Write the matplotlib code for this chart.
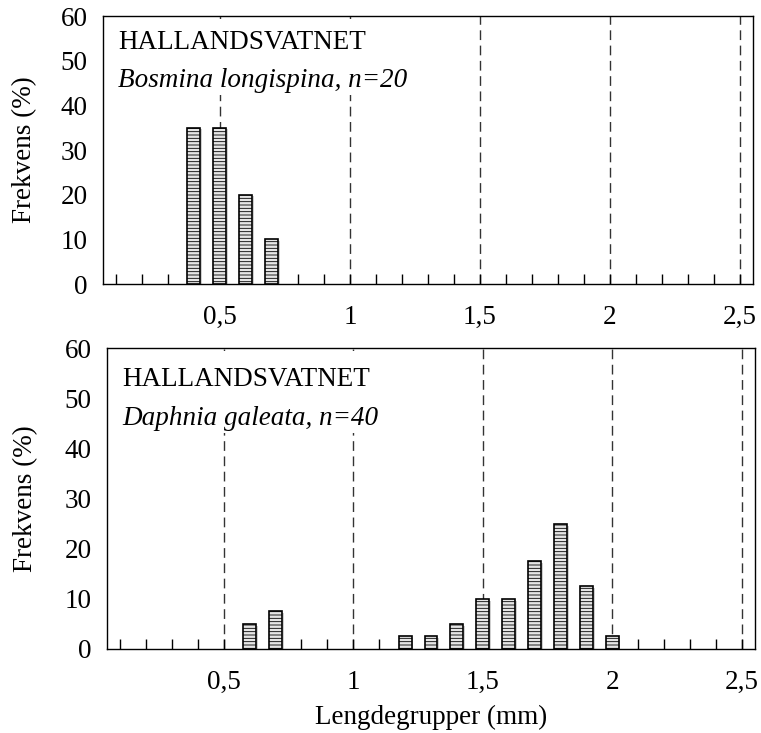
"""Length-frequency histograms for Hallandsvatnet zooplankton."""

import matplotlib
matplotlib.use("Agg")
import matplotlib.pyplot as plt
from matplotlib.patches import Rectangle
import numpy as np

# length groups (mm), one bar slot per 0.1 mm
length_groups = np.round(np.arange(0.1, 2.51, 0.1), 1)

# Bosmina longispina, n=20 (frequency %)
bosmina_groups = [0.4, 0.5, 0.6, 0.7]
bosmina_freq = [35, 35, 20, 10]

# Daphnia galeata, n=40 (frequency %)
daphnia_groups = [0.6, 0.7, 1.2, 1.3, 1.4, 1.5, 1.6, 1.7, 1.8, 1.9, 2.0]
daphnia_freq = [5, 7.5, 2.5, 2.5, 5, 10, 10, 17.5, 25, 12.5, 2.5]

ref_lines = [0.5, 1.0, 1.5, 2.0, 2.5]
y_ticks = [0, 10, 20, 30, 40, 50, 60]

panels = [
    ("HALLANDSVATNET", "Bosmina longispina, n=20", bosmina_groups, bosmina_freq),
    ("HALLANDSVATNET", "Daphnia galeata, n=40", daphnia_groups, daphnia_freq),
]

plt.rcParams["font.family"] = ["Liberation Serif", "DejaVu Serif"]
plt.rcParams["hatch.linewidth"] = 0.6
plt.rcParams["hatch.color"] = "#555555"

FS = 19.5

fig = plt.figure(figsize=(7.61, 7.33), dpi=100)
axes = [
    fig.add_axes([0.1353, 0.6125, 0.854, 0.3656]),
    fig.add_axes([0.1406, 0.1146, 0.8515, 0.4106]),
]
box_bottom = [0.705, 0.717]
title_y = [(0.903, 0.761), (0.894, 0.767)]
ylabel_x = [-0.101, -0.107]


def fmt(v):
    if abs(v * 2 - round(v * 2)) < 1e-6:
        return f"{v:g}".replace(".", ",")
    return ""


for i, (ax, (site, species, groups, freq)) in enumerate(zip(axes, panels)):
    # soft shadow, then hatched bar
    ax.bar(np.array(groups) + 0.006, freq, width=0.05, bottom=-0.4,
           color="#cfcfcf", edgecolor="none", zorder=2)
    ax.bar(groups, freq, width=0.05, facecolor="#e6e6e6", edgecolor="black",
           linewidth=1.2, hatch="-----", zorder=3)

    for x in ref_lines:
        ax.axvline(x, color="#333333", linestyle=(0, (7, 4)), linewidth=1.0, zorder=1)

    ax.add_patch(Rectangle((0.01, box_bottom[i]), 0.46, 0.99 - box_bottom[i],
                           transform=ax.transAxes, facecolor="white",
                           edgecolor="none", zorder=1.5))
    ax.text(0.023, title_y[i][0], site, transform=ax.transAxes, fontsize=FS,
            va="center", ha="left", zorder=5)
    ax.text(0.023, title_y[i][1], species, transform=ax.transAxes, fontsize=FS,
            style="italic", va="center", ha="left", zorder=5)

    ax.set_xlim(0.05, 2.55)
    ax.set_ylim(0, 60)
    ax.set_xticks(length_groups)
    ax.set_xticklabels([fmt(v) for v in length_groups])
    ax.set_yticks(y_ticks)
    ax.tick_params(axis="x", direction="in", length=7, width=1.0, pad=15,
                   labelsize=FS, top=False)
    ax.tick_params(axis="y", length=0, pad=11, labelsize=FS)
    for sp in ax.spines.values():
        sp.set_linewidth(1.0)
    ax.set_ylabel("Frekvens (%)", fontsize=FS)
    ax.yaxis.set_label_coords(ylabel_x[i], 0.5)

axes[1].set_xlabel("Lengdegrupper (mm)", fontsize=FS, labelpad=7)

fig.savefig("out.png", dpi=100)
